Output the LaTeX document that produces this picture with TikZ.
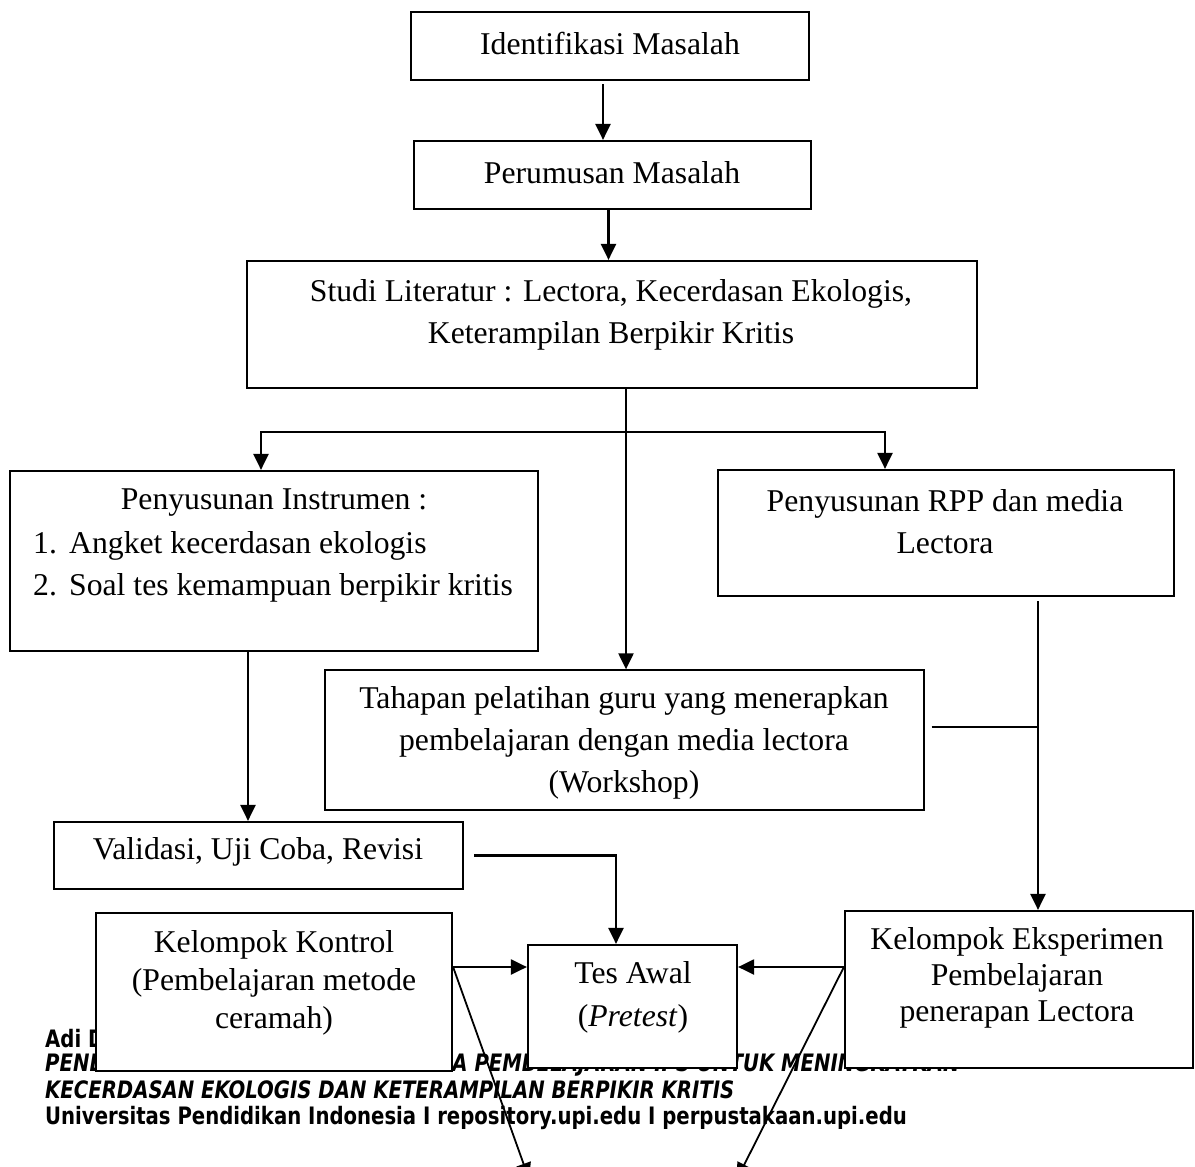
\documentclass[tikz,border=0pt]{standalone}
\usepackage{fontspec}
\setmainfont{Liberation Serif}
\newfontfamily\footfont[FakeStretch=0.82]{DejaVu Sans}
\usetikzlibrary{arrows.meta,calc}
\tikzset{
  box/.style={draw, line width=2.2pt, fill=white, inner sep=0pt},
  thinbox/.style={draw, line width=1.3pt, fill=white, inner sep=0pt},
  txt/.style={align=center, inner sep=0pt, font=\fontsize{31.7}{42}\selectfont},
  foot/.style={anchor=base west, inner sep=0pt, font=\footfont\bfseries\fontsize{24}{26}\selectfont},
  conn/.style={line width=2.2pt},
  arr/.style={line width=2.2pt, -{Triangle[length=16pt,width=15pt]}}
}
\begin{document}
\begin{tikzpicture}[x=1pt,y=-1pt]
\useasboundingbox (0,0) rectangle (1195,1167);
\fill[white] (0,0) rectangle (1195,1167);
% footer
\node[foot] (f1) at (45,1047) {Adi D};
\node[foot] (f2) at (45,1071) {\itshape PENERAPAN LECTORA SEBAGAI MEDIA PEMBELAJARAN IPS UNTUK MENINGKATKAN};
\node[foot] (f3) at (45,1098) {\itshape KECERDASAN EKOLOGIS DAN KETERAMPILAN BERPIKIR KRITIS};
\node[foot] (f4) at (45,1124) {Universitas Pendidikan Indonesia I repository.upi.edu I perpustakaan.upi.edu};
% boxes
\node[box, minimum width=398pt, minimum height=68pt] (ident) at (610,46) {};
\node[box, minimum width=397pt, minimum height=68pt] (rumus) at (612.5,175) {};
\node[box, minimum width=730pt, minimum height=127pt] (studi) at (612,324.5) {};
\node[box, minimum width=528pt, minimum height=180pt] (instr) at (274,561) {};
\node[box, minimum width=456pt, minimum height=126pt] (rpp) at (946,533) {};
\node[thinbox, minimum width=599pt, minimum height=140pt] (tah) at (624.5,740) {};
\node[box, minimum width=409pt, minimum height=67pt] (valid) at (258.5,855.5) {};
\node[box, minimum width=356pt, minimum height=158pt] (kontrol) at (274,992) {};
\node[box, minimum width=209pt, minimum height=123pt] (tes) at (632.5,1006.5) {};
\node[box, minimum width=348pt, minimum height=157pt] (eksp) at (1019,989.5) {};
% texts
\node[txt] (identt) at (610,43) {Identifikasi Masalah};
\node[txt] (rumust) at (612,173) {Perumusan Masalah};
\node[txt] (studit) at (611,315) {Studi Literatur : Lectora, Kecerdasan Ekologis,\\Keterampilan Berpikir Kritis};
\node[txt] (instrt) at (274,503) {Penyusunan Instrumen :};
\node[txt, align=left, anchor=west] (instrl) at (33,567) {\makebox[36pt][l]{1.}Angket kecerdasan ekologis\\\makebox[36pt][l]{2.}Soal tes kemampuan berpikir kritis};
\node[txt] (rppt) at (945,522) {Penyusunan RPP dan media\\Lectora};
\node[txt] (taht) at (624,743) {Tahapan pelatihan guru yang menerapkan\\pembelajaran dengan media lectora\\(Workshop)};
\node[txt] (validt) at (258,852) {Validasi, Uji Coba, Revisi};
\node[txt, font=\fontsize{31.7}{38}\selectfont] (kontrolt) at (274,983) {Kelompok Kontrol\\(Pembelajaran metode\\ceramah)};
\node[txt, font=\fontsize{31.7}{43}\selectfont] (test) at (633,997) {Tes Awal\\(\textit{Pretest})};
\node[txt, font=\fontsize{31.7}{36}\selectfont] (ekspt) at (1017,978) {Kelompok Eksperimen\\Pembelajaran\\penerapan Lectora};
% connectors
\draw[arr] ([xshift=-7pt,yshift=-3pt]ident.south) -- ([xshift=-7pt]ident.south |- rumus.north);
\draw[arr] ([xshift=-4pt]rumus.south) -- ([xshift=-4pt]rumus.south |- studi.north);
\coordinate (split) at ([xshift=14pt]studi.south |- 0,432);
\draw[arr] ([xshift=14pt]studi.south) -- ([xshift=14pt]studi.south |- tah.north);
\draw[arr] (split) -| ([xshift=-13pt]instr.north);
\draw[arr] (split) -| ([xshift=-61pt]rpp.north);
\draw[arr] ([xshift=-26pt]instr.south) -- ([xshift=-26pt]instr.south |- valid.north);
\draw[arr] ([xshift=10pt]valid.east) -| ([xshift=-16.5pt]tes.north);
\draw[arr] ([xshift=92pt,yshift=-4pt]rpp.south) -- ([xshift=92pt]rpp.south |- eksp.north);
\coordinate (ejoin) at ([xshift=92pt]rpp.south |- 0,727);
\draw[conn] ([xshift=7pt,yshift=13pt]tah.east) -- (ejoin);
\draw[arr] ([yshift=25pt]kontrol.east) -- ([yshift=25pt]kontrol.east -| tes.west);
\draw[arr] ([yshift=22.5pt]eksp.west) -- ([yshift=22.5pt]eksp.west -| tes.east);
\coordinate (endL) at (529,1179);
\coordinate (endR) at (737,1179);
\draw[arr, line width=1.8pt] ([yshift=25pt]kontrol.east) -- (endL);
\draw[arr, line width=1.8pt] ([yshift=22.5pt]eksp.west) -- (endR);
\end{tikzpicture}
\end{document}
